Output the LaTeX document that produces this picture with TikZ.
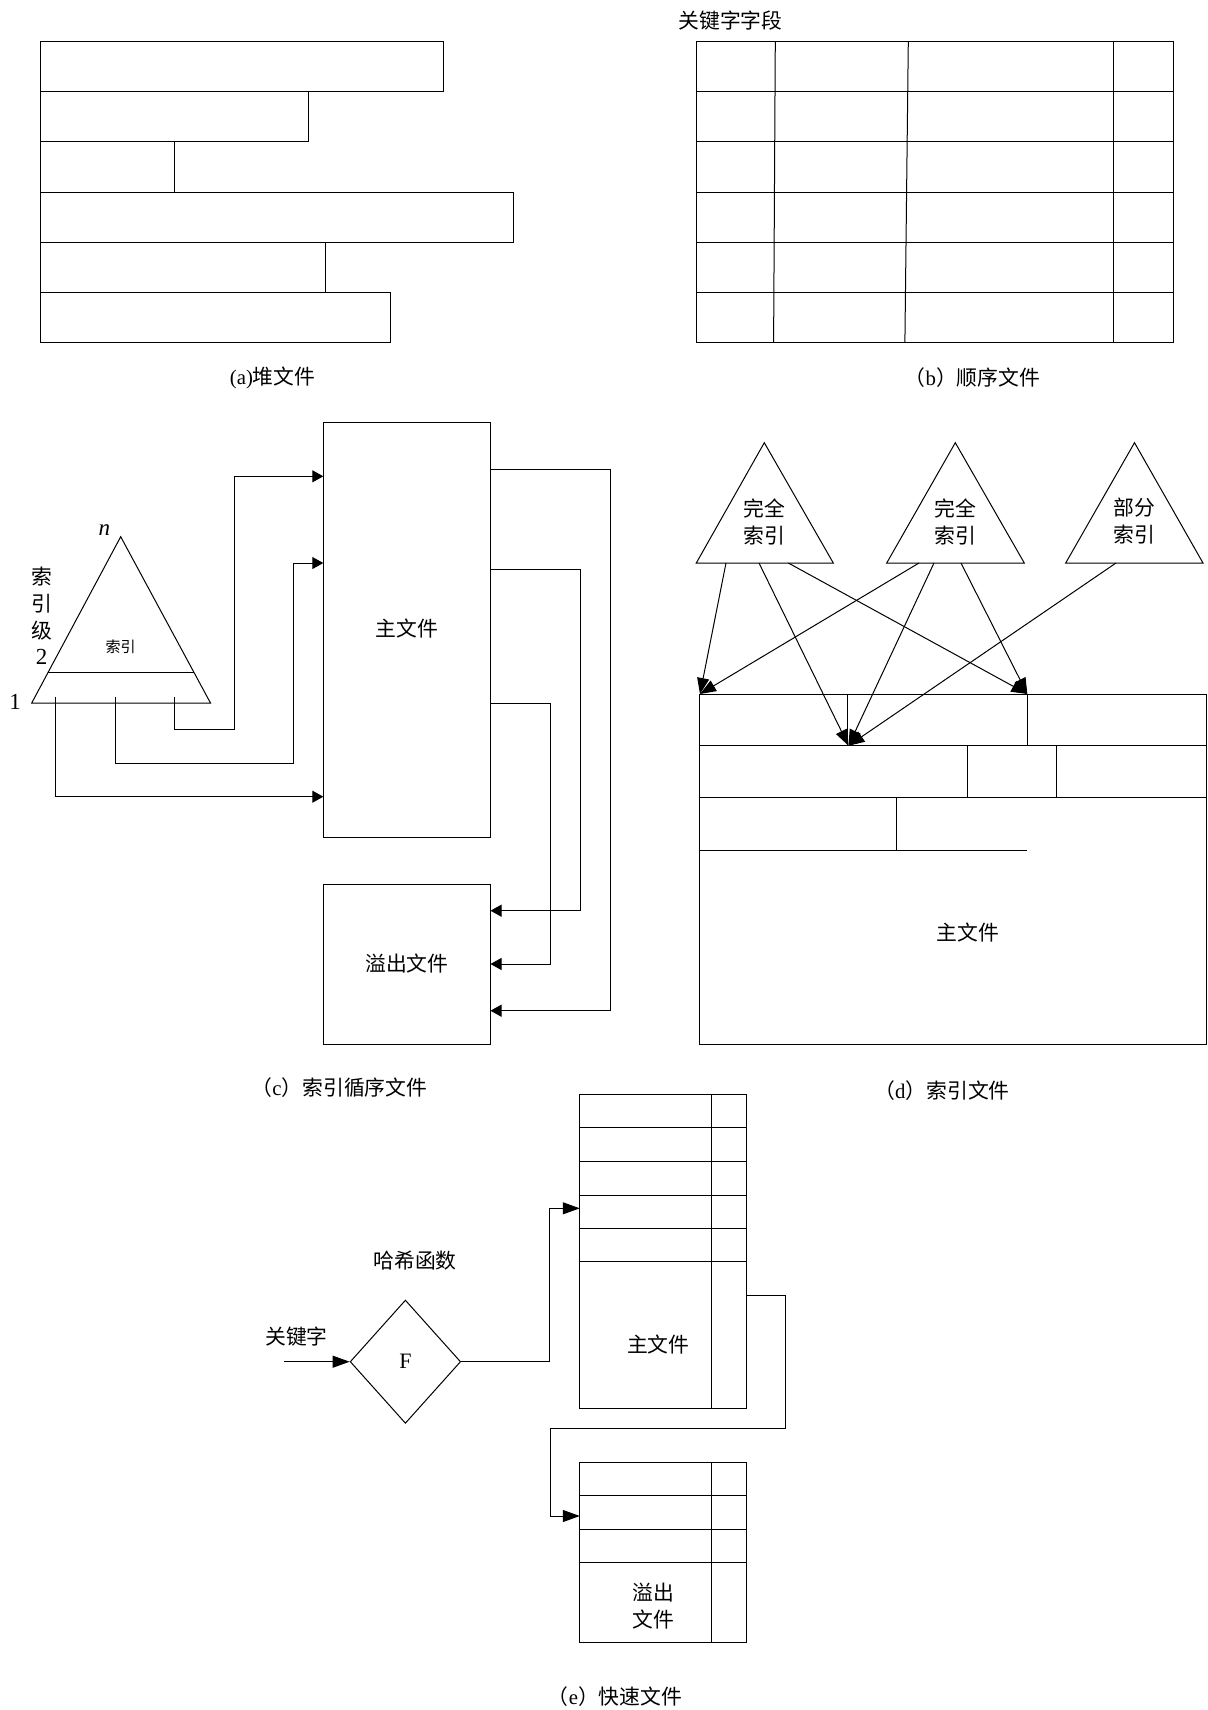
\documentclass[tikz,border=0pt]{standalone}
\usepackage{fontspec}
\newfontfamily\cjk{Noto Sans CJK SC}
\newfontfamily\latserif{Liberation Serif}
\usetikzlibrary{arrows.meta,fit,shapes.geometric}
\begin{document}
\begin{tikzpicture}[x=0.5pt,y=-0.5pt,
  ln/.style={line width=0.5pt, line join=miter},
  box/.style={draw, line width=0.5pt, inner sep=0pt, outer sep=0pt},
  arrc/.style={ln, -{Triangle[length=5.5pt,width=6pt]}},
  arrd/.style={ln, -{Triangle[length=8pt,width=6pt]}},
  arre/.style={ln, -{Triangle[length=8.5pt,width=6pt]}},
  txt/.style={font=\cjk\fontsize{10.4}{13.5}\selectfont, inner sep=0pt, align=center},
  txts/.style={font=\cjk\fontsize{7.5}{9}\selectfont, inner sep=0pt},
  lat/.style={font=\latserif\fontsize{11.5}{13}\selectfont, inner sep=0pt},
]
\useasboundingbox (0,0) rectangle (1208,1710);

% ---------------- (a) heap file ----------------
\node (a1) [box, fit={(40.3,41.7) (443.8,91.8)}] {};
\node (a2) [box, fit={(40.3,91.8) (308.8,141.9)}] {};
\node (a3) [box, fit={(40.3,141.9) (174.4,192)}] {};
\node (a4) [box, fit={(40.3,192) (513.5,242.1)}] {};
\node (a5) [box, fit={(40.3,242.1) (325,292.2)}] {};
\node (a6) [box, fit={(40.3,292.2) (390.3,342.3)}] {};
\node (capa) [txt] at (272.6,378) {{\latserif (a)}堆文件};

% ---------------- (b) sequential file ----------------
\node (bt) [box, fit={(696.7,41.7) (1173.2,342.3)}] {};
\foreach \yy in {91.8,141.9,192,242.1,292.2}
  \draw[ln] (696.7,\yy) -- (1173.2,\yy);
\draw[ln] (775.3,41.7) -- (773.6,342.3);
\draw[ln] (908.3,41.7) -- (904.9,342.3);
\draw[ln] (1113.3,41.7) -- (1113.3,342.3);
\node (kf) [txt] at (730.5,20.5) {关键字字段};
\node (capb) [txt] at (972.5,378) {（{\latserif b}）顺序文件};

% ---------------- (c) indexed sequential file ----------------
\draw[ln] (120.7,536.7) -- (31.7,703) -- (210.5,703) -- cycle;
\draw[ln] (48.2,672.7) -- (194.2,672.7);
\node (nn) [lat, font=\latserif\fontsize{11.5}{13}\selectfont\itshape] at (104.3,530) {n};
\node (s1) [txt] at (41.7,576.5) {索};
\node (s2) [txt] at (41.7,603.5) {引};
\node (s3) [txt] at (41.7,630.5) {级};
\node (s4) [lat] at (41.7,657) {2};
\node (one) [lat] at (15,701.7) {1};
\node (idx) [txts] at (120.7,646.7) {索引};

\node (mainc) [box, fit={(323.3,422.7) (490.5,837.3)}] {};
\node (mainct) [txt] at (406.9,628.3) {主文件};
\node (ovc) [box, fit={(323.3,884) (490.5,1044.3)}] {};
\node (ovct) [txt] at (406.9,963.5) {溢出文件};

\coordinate (t1) at (55.1,697.3);
\coordinate (t2) at (115.1,697.3);
\coordinate (t3) at (174.7,697.3);
\coordinate (h1) at (0,796.7);
\coordinate (h2) at (0,563);
\coordinate (h3) at (0,476.3);
\coordinate (k2) at (293.9,763.7);
\coordinate (k3) at (234,729);
\draw[arrc] (t1) |- (mainc.west |- h1);
\draw[arrc] (t2) |- (k2) |- (mainc.west |- h2);
\draw[arrc] (t3) |- (k3) |- (mainc.west |- h3);

\coordinate (r1) at (0,469.7);
\coordinate (r2) at (0,569.7);
\coordinate (r3) at (0,703.3);
\coordinate (q1) at (610,1010.7);
\coordinate (q2) at (580,910.7);
\coordinate (q3) at (550.2,964);
\draw[arrc] (mainc.east |- r1) -| (q1) -- (ovc.east |- q1);
\draw[arrc] (mainc.east |- r2) -| (q2) -- (ovc.east |- q2);
\draw[arrc] (mainc.east |- r3) -| (q3) -- (ovc.east |- q3);
\node (capc) [txt] at (339.5,1088) {（{\latserif c}）索引循序文件};

% ---------------- (d) indexed file ----------------
\draw[ln] (764.3,442.7) -- (696.3,563) -- (833.3,563) -- cycle;
\draw[ln] (955.3,442.7) -- (886.7,563) -- (1024.3,563) -- cycle;
\draw[ln] (1134.5,442.7) -- (1065.7,563) -- (1203,563) -- cycle;
\node (ti1) [txt] at (764.3,521.5) {完全\\索引};
\node (ti2) [txt] at (955.3,521.5) {完全\\索引};
\node (ti3) [txt] at (1134.5,521.5) {部分\\索引};

\node (dg) [box, fit={(699,694) (1206,1044)}] {};
\draw[ln] (699,745.7) -- (1206,745.7);
\draw[ln] (699,797.7) -- (1206,797.7);
\draw[ln] (699,850) -- (1027,850);
\draw[ln] (847.7,694) -- (847.7,745.7);
\draw[ln] (1027.3,694) -- (1027.3,745.7);
\draw[ln] (967.3,745.7) -- (967.3,797.7);
\draw[ln] (1056.7,745.7) -- (1056.7,797.7);
\draw[ln] (896,797.7) -- (896,850);
\node (dmt) [txt] at (968,933) {主文件};

\coordinate (b11) at (726,563);
\coordinate (b12) at (759,563);
\coordinate (b13) at (788.3,563);
\coordinate (b21) at (919,563);
\coordinate (b22) at (934,563);
\coordinate (b23) at (961,563);
\coordinate (b31) at (1116,563);
\coordinate (g1) at (700,694);
\coordinate (g2) at (848.5,745.7);
\coordinate (g3) at (1027.3,694);
\draw[arrd] (b11) -- (g1);
\draw[arrd] (b12) -- (g2);
\draw[arrd] (b13) -- (g3);
\draw[arrd] (b21) -- (g1);
\draw[arrd] (b22) -- (g2);
\draw[arrd] (b23) -- (g3);
\draw[arrd] (b31) -- (g2);
\node (capd) [txt] at (942,1091) {（{\latserif d}）索引文件};

% ---------------- (e) hashed file ----------------
\node (eh) [box, fit={(579.8,1094.7) (746.8,1408.3)}] {};
\foreach \yy in {1127.7,1161.3,1195,1228,1261.7}
  \draw[ln] (579.8,\yy) -- (746.8,\yy);
\draw[ln] (711.7,1094.7) -- (711.7,1408.3);
\node (eht) [txt] at (658.3,1345) {主文件};

\node (eo) [box, fit={(579.8,1462) (746.8,1642.3)}] {};
\foreach \yy in {1495.3,1529,1562.3}
  \draw[ln] (579.8,\yy) -- (746.8,\yy);
\draw[ln] (711.7,1462) -- (711.7,1642.3);
\node (eot) [txt] at (653.3,1606.5) {溢出\\文件};

\node (dia) [draw, diamond, line width=0.5pt, minimum width=55.25pt, minimum height=61.65pt,
  inner sep=0pt, font=\latserif\fontsize{11}{12}\selectfont] at (405.4,1361.7) {F};
\node (hash) [txt] at (415,1261) {哈希函数};
\node (key) [txt] at (296.5,1336.5) {关键字};

\coordinate (kin) at (284,1361.7);
\draw[arre] (kin) -- (dia.west);
\coordinate (ko) at (549.2,1208.3);
\draw[arre] (dia.east) -| (ko) -- (eh.west |- ko);
\coordinate (l1) at (0,1295);
\coordinate (lk1) at (785.7,1428.3);
\coordinate (lk2) at (550.5,1516);
\draw[arre] (eh.east |- l1) -| (lk1) -| (lk2) -- (eo.west |- lk2);
\node (cape) [txt] at (615,1696.5) {（{\latserif e}）快速文件};
\end{tikzpicture}
\end{document}
